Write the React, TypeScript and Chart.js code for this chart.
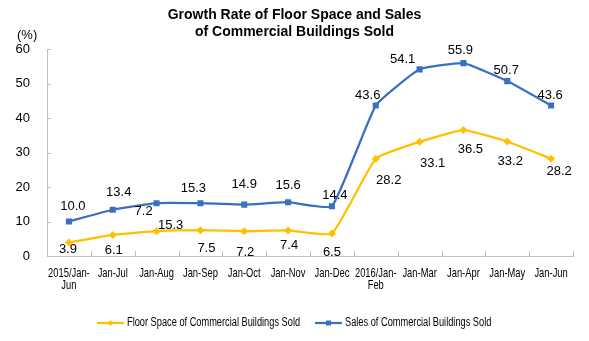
import { useEffect, useRef } from 'react';
import { Chart, registerables } from 'chart.js';

Chart.register(...registerables);

const categories: (string | string[])[] = [
  ['2015/Jan-', 'Jun'], 'Jan-Jul', 'Jan-Aug', 'Jan-Sep', 'Jan-Oct', 'Jan-Nov', 'Jan-Dec',
  ['2016/Jan-', 'Feb'], 'Jan-Mar', 'Jan-Apr', 'Jan-May', 'Jan-Jun',
];
const floorSpace = [3.9, 6.1, 7.2, 7.5, 7.2, 7.4, 6.5, 28.2, 33.1, 36.5, 33.2, 28.2];
const sales = [10.0, 13.4, 15.3, 15.3, 14.9, 15.6, 14.4, 43.6, 54.1, 55.9, 50.7, 43.6];
const yMin = 0;
const yMax = 60;
const yStep = 10;
const seriesNames = ['Floor Space of Commercial Buildings Sold', 'Sales of Commercial Buildings Sold'];
const titleLines = ['Growth Rate of Floor Space and Sales', 'of Commercial Buildings Sold'];
const unitLabel = '(%)';

// label offsets relative to each point (dx, dy), as placed in the original
const floorLabelOffsets = [[-1, 7], [1, 15], [-13, -20], [6, 18], [1, 21], [1, 15], [0, 19], [13, 22], [13, 22], [7, 19], [3, 20], [8, 13]];
const salesLabelOffsets = [[4, -15], [6, -17], [14, 22], [-7, -15], [0, -20], [0, -17], [3, -11], [-8, -10], [-17, -10], [-3, -13], [-1, -11], [-1, -10]];

const YELLOW = '#FFC000';
const BLUE = '#3A70C0';
const AXIS = '#BFBFBF';
const FONT = '"Liberation Sans", Arial, sans-serif';

function squeezedText(ctx: CanvasRenderingContext2D, text: string, x: number, y: number, align: CanvasTextAlign, k: number) {
  ctx.save();
  ctx.translate(x, y);
  ctx.scale(k, 1);
  ctx.textAlign = align;
  ctx.fillText(text, 0, 0);
  ctx.restore();
}

const decorPlugin = {
  id: 'decor',
  afterDraw(chart: any) {
    const ctx: CanvasRenderingContext2D = chart.ctx;
    const area = chart.chartArea;
    const xs = chart.scales.x;
    const ys = chart.scales.y;
    ctx.save();

    // title
    ctx.fillStyle = '#000';
    ctx.font = `bold 14px ${FONT}`;
    ctx.textAlign = 'center';
    ctx.textBaseline = 'middle';
    ctx.fillText(titleLines[0], 294.5, 15);
    ctx.fillText(titleLines[1], 294.5, 32);

    // unit
    ctx.font = `13px ${FONT}`;
    ctx.textAlign = 'left';
    ctx.fillText(unitLabel, 17, 35);

    // inner ticks
    ctx.strokeStyle = AXIS;
    ctx.lineWidth = 1;
    ctx.beginPath();
    for (let v = yMin; v <= yMax; v += yStep) {
      const py = Math.round(ys.getPixelForValue(v)) + 0.5;
      ctx.moveTo(area.left, py);
      ctx.lineTo(area.left + 4, py);
    }
    const n = categories.length;
    const half = (xs.getPixelForValue(1) - xs.getPixelForValue(0)) / 2;
    for (let i = 0; i < n; i++) {
      const px = Math.round(xs.getPixelForValue(i) + half) + 0.5;
      ctx.moveTo(px, area.bottom);
      ctx.lineTo(px, area.bottom - 5);
    }
    ctx.stroke();

    // x labels
    ctx.fillStyle = '#000';
    ctx.font = `13px ${FONT}`;
    ctx.textBaseline = 'middle';
    categories.forEach((c, i) => {
      const lines = Array.isArray(c) ? c : [c];
      const px = xs.getPixelForValue(i);
      lines.forEach((l, j) => squeezedText(ctx, l, px, 273 + j * 12.5, 'center', 0.72));
    });

    // data labels
    ctx.font = `13px ${FONT}`;
    ctx.textAlign = 'center';
    ctx.textBaseline = 'middle';
    const sets = [
      { values: floorSpace, offsets: floorLabelOffsets, idx: 0 },
      { values: sales, offsets: salesLabelOffsets, idx: 1 },
    ];
    sets.forEach((s) => {
      const meta = chart.getDatasetMeta(s.idx);
      meta.data.forEach((el: any, i: number) => {
        const [dx, dy] = s.offsets[i];
        ctx.fillText(s.values[i].toFixed(1), el.x + dx, el.y + dy);
      });
    });

    // legend
    const ly = 323;
    const items = [
      { x: 97, color: YELLOW, style: 'diamond', text: seriesNames[0] },
      { x: 315, color: BLUE, style: 'square', text: seriesNames[1] },
    ];
    ctx.font = `12px ${FONT}`;
    items.forEach((it) => {
      ctx.strokeStyle = it.color;
      ctx.fillStyle = it.color;
      ctx.lineWidth = 2.25;
      ctx.beginPath();
      ctx.moveTo(it.x, ly);
      ctx.lineTo(it.x + 27, ly);
      ctx.stroke();
      const cx = it.x + 13.5;
      ctx.beginPath();
      if (it.style === 'diamond') {
        ctx.moveTo(cx, ly - 3);
        ctx.lineTo(cx + 3, ly);
        ctx.lineTo(cx, ly + 3);
        ctx.lineTo(cx - 3, ly);
      } else {
        ctx.rect(cx - 2.5, ly - 2.5, 5, 5);
      }
      ctx.closePath();
      ctx.fill();
      ctx.fillStyle = '#000';
      ctx.textBaseline = 'middle';
      squeezedText(ctx, it.text, it.x + 30, ly, 'left', 0.77);
    });

    ctx.restore();
  },
};

export default function App() {
  const ref = useRef<HTMLCanvasElement>(null);
  useEffect(() => {
    document.body.style.margin = '0';
    const canvas = ref.current!;
    const chart = new Chart(canvas, {
      type: 'line',
      data: {
        labels: categories.map((c) => (Array.isArray(c) ? c.join(' ') : c)),
        datasets: [
          {
            label: seriesNames[0],
            data: floorSpace,
            borderColor: YELLOW,
            backgroundColor: YELLOW,
            borderWidth: 2.25,
            pointStyle: 'rectRot',
            pointRadius: 4,
            pointBorderWidth: 0,
            tension: 0.12,
          },
          {
            label: seriesNames[1],
            data: sales,
            borderColor: BLUE,
            backgroundColor: BLUE,
            borderWidth: 2.25,
            pointStyle: 'rect',
            pointRadius: 4.3,
            pointBorderWidth: 0,
            tension: 0.12,
          },
        ],
      },
      options: {
        responsive: false,
        animation: false,
        devicePixelRatio: 1,
        layout: { padding: { top: 49, right: 16, left: 0, bottom: 0 } },
        plugins: { legend: { display: false }, title: { display: false }, tooltip: { enabled: false } },
        scales: {
          x: {
            offset: true,
            grid: { display: true, drawOnChartArea: false, drawTicks: false, color: 'rgba(0,0,0,0)' },
            border: { display: true, color: AXIS, width: 1 },
            ticks: { display: false },
            afterFit: (s: any) => { s.height = 85; },
          },
          y: {
            min: yMin,
            max: yMax,
            grid: { display: true, drawOnChartArea: false, drawTicks: false, color: 'rgba(0,0,0,0)' },
            border: { display: true, color: AXIS, width: 1 },
            ticks: { stepSize: yStep, padding: 17, color: '#000', font: { family: FONT, size: 13 } },
            afterFit: (s: any) => { s.width = 47; },
          },
        },
      },
      plugins: [decorPlugin],
    });
    return () => chart.destroy();
  }, []);
  return (
    <div style={{ position: 'absolute', left: 0, top: 0, width: 589, height: 341, background: '#fff' }}>
      <canvas ref={ref} width={589} height={341} style={{ display: 'block', width: 589, height: 341 }} />
    </div>
  );
}
